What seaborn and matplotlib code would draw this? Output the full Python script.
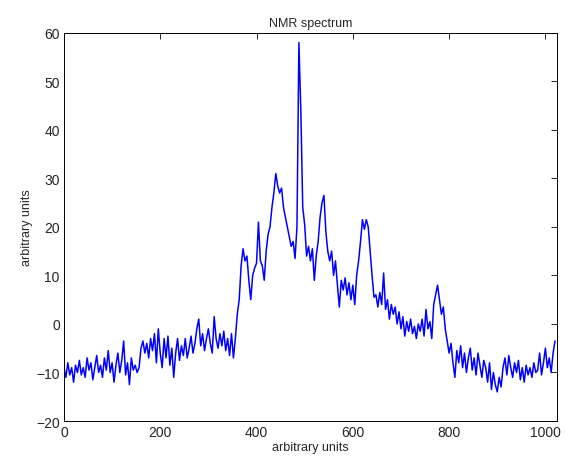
import numpy as np
import pandas as pd
import matplotlib
matplotlib.use("Agg")
import matplotlib.pyplot as plt
import seaborn as sns

# spectrum, one sample every 4 units (0..1020)
intensity = [
    -9, -11, -8, -10.5, -9, -12, -8.5, -10, -7.5, -10.5,
    -9, -11, -7, -9.5, -8, -11.5, -9, -6.5, -10, -8.5,
    -11, -7, -9.5, -5.5, -10, -8, -12, -8.5, -6, -10,
    -7.5, -3.5, -10.5, -8, -12.5, -7, -9.5, -8.5, -10, -9,
    -5, -3.5, -6, -4, -7, -3, -5.5, -2, -8, -1,
    -6, -9, -3, -7, -2.5, -8.5, -5, -11, -6, -3,
    -7.5, -4.5, -6.5, -3, -7, -5, -2.5, -6, -4, -1,
    1, -4.5, -2, -5.5, -3, -1, -4, -6, 1.5, -3,
    -5, -2, -4.5, -1.5, -5.5, -3, -6.5, -2, -7, -3,
    2, 5, 12, 15.5, 13, 14, 9, 5, 10, 11.5,
    12.5, 21, 13, 12, 9, 15, 18.5, 20, 24, 27,
    31, 28.5, 27, 28, 24, 22, 20, 18, 16, 17,
    13.5, 20, 58, 44, 24, 20.5, 14, 16, 13, 15.5,
    9, 14, 17, 22, 25, 26.5, 19, 15, 13, 15,
    10, 13, 8, 3.5, 9, 7, 9.5, 6, 8.5, 5,
    8, 4, 10, 13, 17, 21.5, 19.5, 21.5, 20, 15,
    10, 5.5, 6, 3.5, 6.5, 4, 10.5, 3, 5, 1,
    4, 2, 3.5, 0, 2.5, -1, 1.5, -2.5, 0.5, -1.5,
    1, -2, -0.5, -3, 0, -1.5, 1, -2.5, 3, -1,
    0.5, -3, 4, 6, 8, 5, 2, 3.5, -1, -3.5,
    -6, -4, -8, -11, -5.5, -8, -4.5, -9, -6, -10,
    -7, -5, -9.5, -7, -10.5, -6, -8.5, -11, -7.5, -9,
    -12, -8, -13.5, -10, -12.5, -14, -11, -13, -9, -7,
    -10.5, -6.5, -9, -11, -8, -10, -7.5, -11.5, -9, -12,
    -8.5, -10.5, -9, -11, -8, -10, -9.5, -6, -10.5, -8,
    -5, -9, -7, -10, -6, -3.5,
]
position = np.arange(len(intensity)) * 4

x_ticks = [0, 200, 400, 600, 800, 1000]
y_ticks = [-20, -10, 0, 10, 20, 30, 40, 50, 60]

df = pd.DataFrame({"x": position, "y": intensity})

sns.set_theme(style="white")
plt.rcParams["font.family"] = ["Liberation Sans", "DejaVu Sans"]

fig, ax = plt.subplots(figsize=(5.66, 4.64), dpi=100)
fig.subplots_adjust(left=0.113, right=0.984, bottom=0.0905, top=0.927)

sns.lineplot(data=df, x="x", y="y", ax=ax, color="#0000ff", linewidth=1.1)

ax.set_xlim(0, 1024)
ax.set_ylim(-20, 60)
ax.set_xticks(x_ticks)
ax.set_yticks(y_ticks)
ax.tick_params(direction="in", top=True, right=True, length=4, width=0.6,
               labelsize=10, color="black", pad=3)
for s in ax.spines.values():
    s.set_color("black")
    s.set_linewidth(0.7)

ax.set_xlabel("arbitrary units", fontsize=9, labelpad=1)
ax.set_ylabel("arbitrary units", fontsize=9, labelpad=2)
ax.set_title("NMR spectrum", fontsize=9, pad=5)

fig.savefig("out.png", dpi=100)
